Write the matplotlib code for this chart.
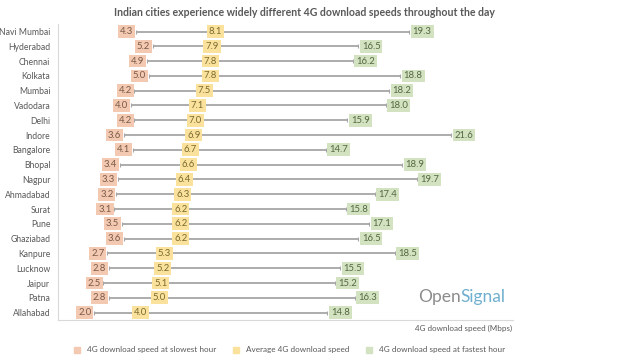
import matplotlib
matplotlib.use("Agg")
import matplotlib.pyplot as plt
from matplotlib.lines import Line2D

cities = ["Navi Mumbai", "Hyderabad", "Chennai", "Kolkata", "Mumbai", "Vadodara", "Delhi",
          "Indore", "Bangalore", "Bhopal", "Nagpur", "Ahmadabad", "Surat", "Pune",
          "Ghaziabad", "Kanpure", "Lucknow", "Jaipur", "Patna", "Allahabad"]
slowest = [4.3, 5.2, 4.9, 5.0, 4.2, 4.0, 4.2, 3.6, 4.1, 3.4, 3.3, 3.2, 3.1, 3.5, 3.6, 2.7, 2.8, 2.5, 2.8, 2.0]
average = [8.1, 7.9, 7.8, 7.8, 7.5, 7.1, 7.0, 6.9, 6.7, 6.6, 6.4, 6.3, 6.2, 6.2, 6.2, 5.3, 5.2, 5.1, 5.0, 4.0]
fastest = [19.3, 16.5, 16.2, 18.8, 18.2, 18.0, 15.9, 21.6, 14.7, 18.9, 19.7, 17.4, 15.8, 17.1, 16.5, 18.5, 15.5, 15.2, 16.3, 14.8]
legend_labels = ["4G download speed at slowest hour", "Average 4G download speed", "4G download speed at fastest hour"]

FONT = ["Lato", "DejaVu Sans"]
plt.rcParams["font.family"] = FONT

c_slow, c_avg, c_fast = "#F3C9B1", "#FBE29C", "#D3E3C2"
t_slow, t_avg, t_fast = "#7a5a48", "#7a6a30", "#52683f"
line_c = "#A6A6A6"
axis_c = "#D9D9D9"

fig = plt.figure(figsize=(6.4, 3.6), dpi=100)
ax = fig.add_axes([0.0906, 0.111, 0.711, 0.822])

ys = list(range(len(cities)))
for y, s, a, f in zip(ys, slowest, average, fastest):
    ax.plot([s, f], [y, y], color=line_c, lw=1.3, zorder=1, solid_capstyle="butt")
    ax.plot([s, f], [y, y], ls="none", marker="|", ms=3, mew=0.8, color=line_c, zorder=1)
    bb = dict(boxstyle="square,pad=0.2", lw=0)
    ax.annotate(f"{s:.1f}", (s, y), xytext=(-2, 0), textcoords="offset points",
                ha="right", va="center", fontsize=6.8, color=t_slow,
                bbox=dict(bb, fc=c_slow), zorder=3)
    ax.annotate(f"{a:.1f}", (a, y), xytext=(2.5, 0), textcoords="offset points",
                ha="left", va="center", fontsize=6.8, color=t_avg,
                bbox=dict(bb, fc=c_avg), zorder=3)
    ax.annotate(f"{f:.1f}", (f, y), xytext=(2.5, 0), textcoords="offset points",
                ha="left", va="center", fontsize=6.8, color=t_fast,
                bbox=dict(bb, fc=c_fast), zorder=3)

ax.set_xlim(0, 25)
ax.set_ylim(len(cities) - 0.5, -0.5)
ax.set_yticks(ys)
ax.set_yticklabels(cities, fontsize=6.2, color="#595959")
ax.tick_params(axis="y", length=0, pad=5.5)
ax.set_xticks([])
for side in ["top", "right"]:
    ax.spines[side].set_visible(False)
for side in ["left", "bottom"]:
    ax.spines[side].set_color(axis_c)
    ax.spines[side].set_linewidth(0.8)

fig.text(0.475, 0.965, "Indian cities experience widely different 4G download speeds throughout the day",
         ha="center", va="center", fontsize=7.6, fontweight="bold", color="#595959")
fig.text(0.8, 0.088, "4G download speed (Mbps)", ha="right", va="center", fontsize=5.8, color="#595959")

# logo
t1 = fig.text(0.653, 0.175, "Open", ha="left", va="center", fontsize=12.5, color="#8C8C8C")
fig.canvas.draw()
bbox = t1.get_window_extent()
x_end = bbox.x1 / fig.bbox.width
fig.text(x_end, 0.175, "Signal", ha="left", va="center", fontsize=12.5, color="#6FAFCF")

handles = [Line2D([], [], ls="none", marker="s", ms=5, mfc=c, mec=c) for c in (c_slow, c_avg, c_fast)]
fig.legend(handles, legend_labels, loc="center", bbox_to_anchor=(0.452, 0.028), ncol=3,
           frameon=False, fontsize=5.9, handlelength=0.8, handletextpad=0.8, columnspacing=2.0,
           labelcolor="#595959")

fig.savefig("out.png", dpi=100)
